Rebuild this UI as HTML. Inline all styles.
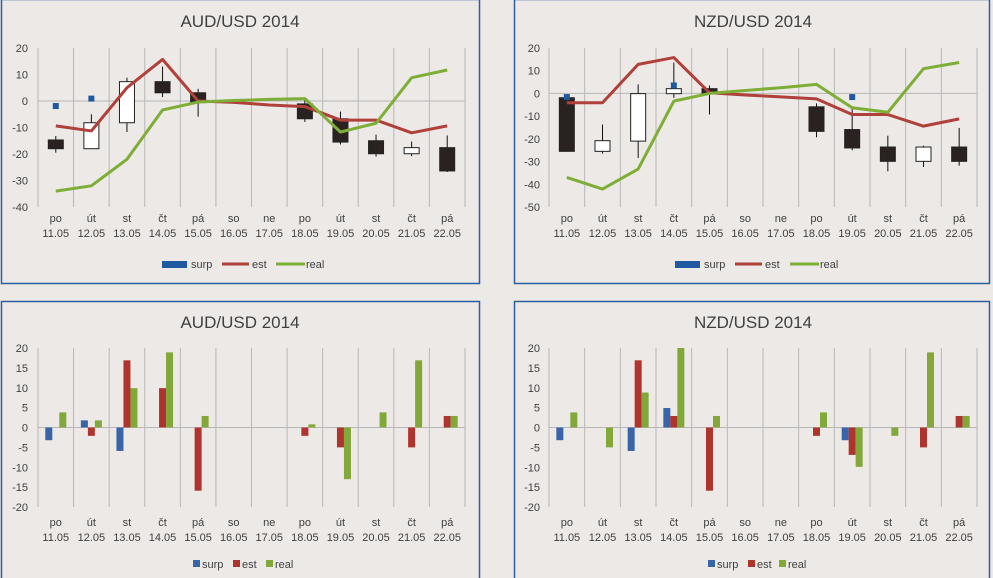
<!DOCTYPE html>
<html><head><meta charset="utf-8">
<style>
html,body{margin:0;padding:0;background:#ece9e7;width:993px;height:578px;overflow:hidden}
svg{display:block}
text{font-family:"Liberation Sans","DejaVu Sans",sans-serif;fill:#404040}
</style></head>
<body>
<svg id="root" width="993" height="578" viewBox="0 0 993 578" xmlns="http://www.w3.org/2000/svg">
<rect x="0" y="0" width="993" height="578" fill="#ece9e7"/>
</svg>
<script>
const days = ["po","út","st","čt","pá","so","ne","po","út","st","čt","pá"];
const dates = ["11.05","12.05","13.05","14.05","15.05","16.05","17.05","18.05","19.05","20.05","21.05","22.05"];

// AUD candle chart data
const audEst = [-9.4,-11.3,5,15.7,0,-0.5,-1.5,-2.1,-7.2,-7.2,-12,-9.4];
const audReal = [-34,-32,-22,-3.4,-0.4,0.2,0.6,0.9,-11.7,-8.4,8.8,11.7];
const audSurp = [-1.9,0.9,null,null,null,null,null,null,null,null,null,null];
const audOpen = [-14.7,-18,-8.2,7.3,3.1,null,null,-1.1,-6.7,-15,-19.9,-17.6];
const audClose = [-18,-8.2,7.3,3.1,-0.6,null,null,-6.7,-15.5,-19.9,-17.6,-26.4];
const audHigh = [-13.2,-5,8.8,13,4.6,null,null,0.4,-4,-12.7,-15.3,-13];
const audLow = [-19.5,-18,-11.7,1.5,-5.9,null,null,-7.9,-16.4,-21,-20.8,-26.8];
const audTicks = [20,10,0,-10,-20,-30,-40];

// NZD candle chart data
const nzdEst = [-4.1,-4.1,12.8,15.8,0.3,-0.7,-1.5,-2.4,-9.3,-9.3,-14.4,-11.2];
const nzdReal = [-37,-42.1,-33.3,-3.4,0,1.3,2.5,4,-6.3,-8.3,10.9,13.6];
const nzdSurp = [-1.6,null,null,3.5,null,null,null,null,-1.6,null,null,null];
const nzdOpen = [-1.9,-25.5,-21,-0.1,2.1,null,null,-5.9,-15.9,-23.6,-29.9,-23.6];
const nzdClose = [-25.5,-20.8,-0.1,2.1,-0.1,null,null,-16.7,-24,-29.9,-23.6,-29.9];
const nzdHigh = [-1.9,-13.7,4,13.6,3.5,null,null,-4.4,-6.8,-18.6,-23,-15.2];
const nzdLow = [-25.5,-26.5,-28.4,-1.9,-9.3,null,null,-19.3,-25,-34.3,-32.4,-31.8];
const nzdTicks = [20,10,0,-10,-20,-30,-40,-50];

// Bar chart data
const audBarSurp = [-3.2,1.8,-5.9,0,0,0,0,0,0,0,0,0];
const audBarEst = [0,-2.1,16.9,9.9,-15.9,0,0,-2.1,-5,0,-5,2.9];
const audBarReal = [3.8,1.8,9.9,18.9,2.9,0,0,0.8,-13,3.8,16.9,2.9];
const nzdBarSurp = [-3.2,0,-5.9,4.9,0,0,0,0,-3.2,0,0,0];
const nzdBarEst = [0,0,16.9,2.9,-15.9,0,0,-2.1,-6.9,0,-5,2.9];
const nzdBarReal = [3.8,-5,8.8,20,2.9,0,0,3.8,-9.9,-2.1,18.9,2.9];
const barTicks = [20,15,10,5,0,-5,-10,-15,-20];

const NS = "http://www.w3.org/2000/svg";
const root = document.getElementById('root');
const C = {blue:"#1f5aa0", red:"#b0403a", green:"#7eae36", gbar:"#83a83a", bblue:"#3a64a8", grid:"#b7b7b7", dark:"#2a2220"};

function mk(tag, attrs, parent){
  const e = document.createElementNS(NS, tag);
  for (const k in attrs) e.setAttribute(k, attrs[k]);
  (parent||root).appendChild(e);
  return e;
}

function panel(x,y,w,h,name,title,tx,ty){
  const g = mk('g',{});
  
  
  const r = mk('rect',{x:x+0.5,y:y+0.5,width:w,height:h,fill:"#ece9e7",stroke:"#2d5e9e","stroke-width":1.5},g);
  
  
  const t = mk('text',{x:tx,y:ty,"text-anchor":"middle","font-size":"17"},g);
  t.textContent = title;
  
  
  return g;
}

function axes(g, x0, x1, yTop, yBot, ticks, vmax, vmin, labelRight, lblY){
  const yS = v => yTop + (vmax - v) / (vmax - vmin) * (yBot - yTop);
  const cw = (x1 - x0) / 12;
  const xC = i => x0 + cw * (i + 0.5);
  for (let i=0;i<=12;i++){
    const l = mk('line',{x1:x0+cw*i,x2:x0+cw*i,y1:yTop,y2:yBot,stroke:C.grid,"stroke-width":1},g);
    
    
  }
  const z = mk('line',{x1:x0,x2:x1,y1:yS(0),y2:yS(0),stroke:C.grid,"stroke-width":1},g);
  
  
  ticks.forEach(t=>{
    const tt = mk('text',{x:labelRight,y:yS(t)+4,"text-anchor":"end","font-size":"11"},g);
    tt.textContent = t;
    
    
  });
  for (let i=0;i<12;i++){
    const a = mk('text',{x:xC(i),y:lblY,"text-anchor":"middle","font-size":"11"},g);
    a.textContent = days[i];
    
    
    const b = mk('text',{x:xC(i),y:lblY+15,"text-anchor":"middle","font-size":"11"},g);
    b.textContent = dates[i];
    
    
  }
  return {yS, xC, cw};
}

function candleChart(g, ax, est, real, surp, op, cl, hi, lo){
  for (let i=0;i<12;i++){
    if (op[i]===null) continue;
    const x = ax.xC(i);
    const w = mk('line',{x1:x,x2:x,y1:ax.yS(hi[i]),y2:ax.yS(lo[i]),stroke:"#111","stroke-width":1},g);
    
    
    const top = Math.max(op[i],cl[i]), bot = Math.min(op[i],cl[i]);
    const up = cl[i] > op[i];
    const b = mk('rect',{x:x-7.5,y:ax.yS(top),width:15,height:Math.max(1,ax.yS(bot)-ax.yS(top)),fill:up?"#ffffff":C.dark,stroke:"#222","stroke-width":1},g);
    
    
  }
  const lp = (arr)=>arr.map((v,i)=>`${ax.xC(i)},${ax.yS(v)}`).join(' ');
  const e = mk('polyline',{points:lp(est),fill:"none",stroke:C.red,"stroke-width":3,"stroke-linejoin":"round"},g);
  
  
  const r = mk('polyline',{points:lp(real),fill:"none",stroke:C.green,"stroke-width":3,"stroke-linejoin":"round"},g);
  
  
  surp.forEach((v,i)=>{
    if (v===null) return;
    const s = mk('rect',{x:ax.xC(i)-3,y:ax.yS(v)-3,width:6,height:6,fill:C.blue},g);
    
    
  });
}

function lineLegend(g, y, xs){
  const s = mk('rect',{x:xs[0],y:y-3,width:25,height:7,fill:C.blue},g);
  
  
  const t1 = mk('text',{x:xs[0]+29,y:y+4,"font-size":"11"},g); t1.textContent="surp";
  
  
  const e = mk('line',{x1:xs[1],x2:xs[1]+27,y1:y,y2:y,stroke:C.red,"stroke-width":3},g);
  
  
  const t2 = mk('text',{x:xs[1]+30,y:y+4,"font-size":"11"},g); t2.textContent="est";
  
  
  const r = mk('line',{x1:xs[2],x2:xs[2]+29,y1:y,y2:y,stroke:C.green,"stroke-width":3},g);
  
  
  const t3 = mk('text',{x:xs[2]+30,y:y+4,"font-size":"11"},g); t3.textContent="real";
  
  
}

function barChart(g, ax, surp, est, real){
  const series = [[surp,C.bblue,-10.5,'bar-surp'],[est,"#b0342e",-3.5,'bar-est'],[real,C.gbar,3.5,'bar-real']];
  series.forEach(([arr,col,off,nm])=>{
    arr.forEach((v,i)=>{
      if (!v) return;
      const y0 = ax.yS(0), y1 = ax.yS(v);
      const b = mk('rect',{x:ax.xC(i)+off,y:Math.min(y0,y1),width:7,height:Math.abs(y1-y0),fill:col},g);
      
      
    });
  });
}

function barLegend(g, y, xs){
  const items = [["surp",C.bblue],["est","#b0342e"],["real",C.gbar]];
  items.forEach(([n,c],k)=>{
    const s = mk('rect',{x:xs[k],y:y-4,width:7,height:7,fill:c},g);
    
    
    const t = mk('text',{x:xs[k]+9,y:y+4,"font-size":"11"},g); t.textContent=n;
    
    
  });
}

// Top-left AUD
let g1 = panel(1,-1,478,284,'aud-candle-chart','AUD/USD 2014',240,27);
let a1 = axes(g1, 38, 465, 48, 207, audTicks, 20, -40, 28, 222);
candleChart(g1, a1, audEst, audReal, audSurp, audOpen, audClose, audHigh, audLow);
lineLegend(g1, 264, [162,222,276]);

// Top-right NZD
let g2 = panel(514,-1,475,284,'nzd-candle-chart','NZD/USD 2014',753,27);
let a2 = axes(g2, 549, 977, 48, 207, nzdTicks, 20, -50, 540, 222);
candleChart(g2, a2, nzdEst, nzdReal, nzdSurp, nzdOpen, nzdClose, nzdHigh, nzdLow);
lineLegend(g2, 264, [675,735,790]);

// Bottom-left AUD bars
let g3 = panel(1,301,478,290,'aud-bar-chart','AUD/USD 2014',240,328);
let a3 = axes(g3, 38, 465, 348, 507, barTicks, 20, -20, 28, 526);
barChart(g3, a3, audBarSurp, audBarEst, audBarReal);
barLegend(g3, 564, [193,233,266]);

// Bottom-right NZD bars
let g4 = panel(514,301,475,290,'nzd-bar-chart','NZD/USD 2014',753,328);
let a4 = axes(g4, 549, 977, 348, 507, barTicks, 20, -20, 540, 526);
barChart(g4, a4, nzdBarSurp, nzdBarEst, nzdBarReal);
barLegend(g4, 564, [708,748,779]);
</script>
</body></html>
